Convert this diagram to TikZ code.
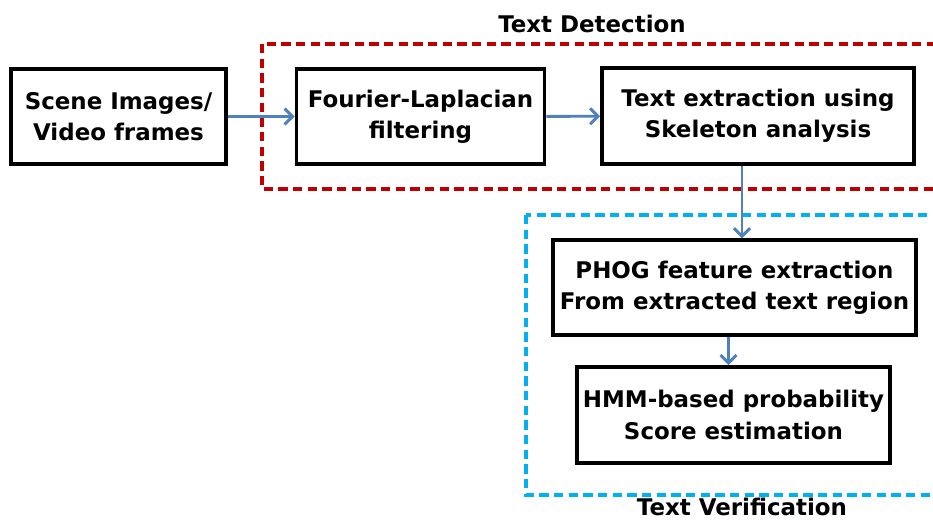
\documentclass[tikz,border=0pt]{standalone}
\usepackage{fontspec}
\setmainfont{DejaVu Sans}
\usepackage{xcolor}
\usetikzlibrary{arrows.meta, positioning, calc}

\definecolor{detred}{RGB}{192,0,0}
\definecolor{verblue}{RGB}{0,176,240}
\definecolor{arrblue}{RGB}{79,129,189}

\begin{document}
\begin{tikzpicture}[
  x=0.75pt, y=-0.75pt,
  font=\bfseries\fontsize{17.2}{23.5}\selectfont,
  stage/.style={draw, line width=2.8pt, align=center, inner sep=2pt},
  flow/.style={draw=arrblue, line width=2.2pt, -{Straight Barb[length=6pt, width=12pt, line width=2.2pt]}},
  frame/.style={line width=2.6pt, dash pattern=on 7pt off 4pt},
  title/.style={anchor=base, inner sep=0pt},
]
\clip (0,0) rectangle (933,519);

% Input
\node[stage, minimum width=161pt, minimum height=71pt] (scene) at (118.5,116.5)
  {Scene Images/\\Video frames};

% Text detection
\draw[frame, detred] (262,44) rectangle (960,189);
\node[title] (dettitle) at (592,32) {Text Detection};
\node[stage, minimum width=186pt, minimum height=71pt] (fourier) at (420.5,116.5)
  {Fourier-Laplacian\\filtering};
\node[stage, minimum width=234pt, minimum height=72pt] (skel) at (758,116)
  {Text extraction using\\Skeleton analysis};

% Text verification
\draw[frame, verblue] (526,215) rectangle (960,495);
\node[title] (vertitle) at (742,515) {Text Verification};
\node[stage, minimum width=272pt, minimum height=71pt] (phog) at (734.5,287.5)
  {PHOG feature extraction\\From extracted text region};
\node[stage, minimum width=235pt, minimum height=72pt] (hmm) at (733.5,415)
  {HMM-based probability\\Score estimation};

\draw[flow] (scene) -- (fourier);
\draw[flow] (fourier) -- (skel);
\draw[flow] ([xshift=-12pt]skel.south) -- ([xshift=-12pt]skel.south |- phog.north);
\draw[flow] ([xshift=-4.5pt]phog.south) -- ([xshift=-4.5pt]phog.south |- hmm.north);
\end{tikzpicture}
\end{document}
